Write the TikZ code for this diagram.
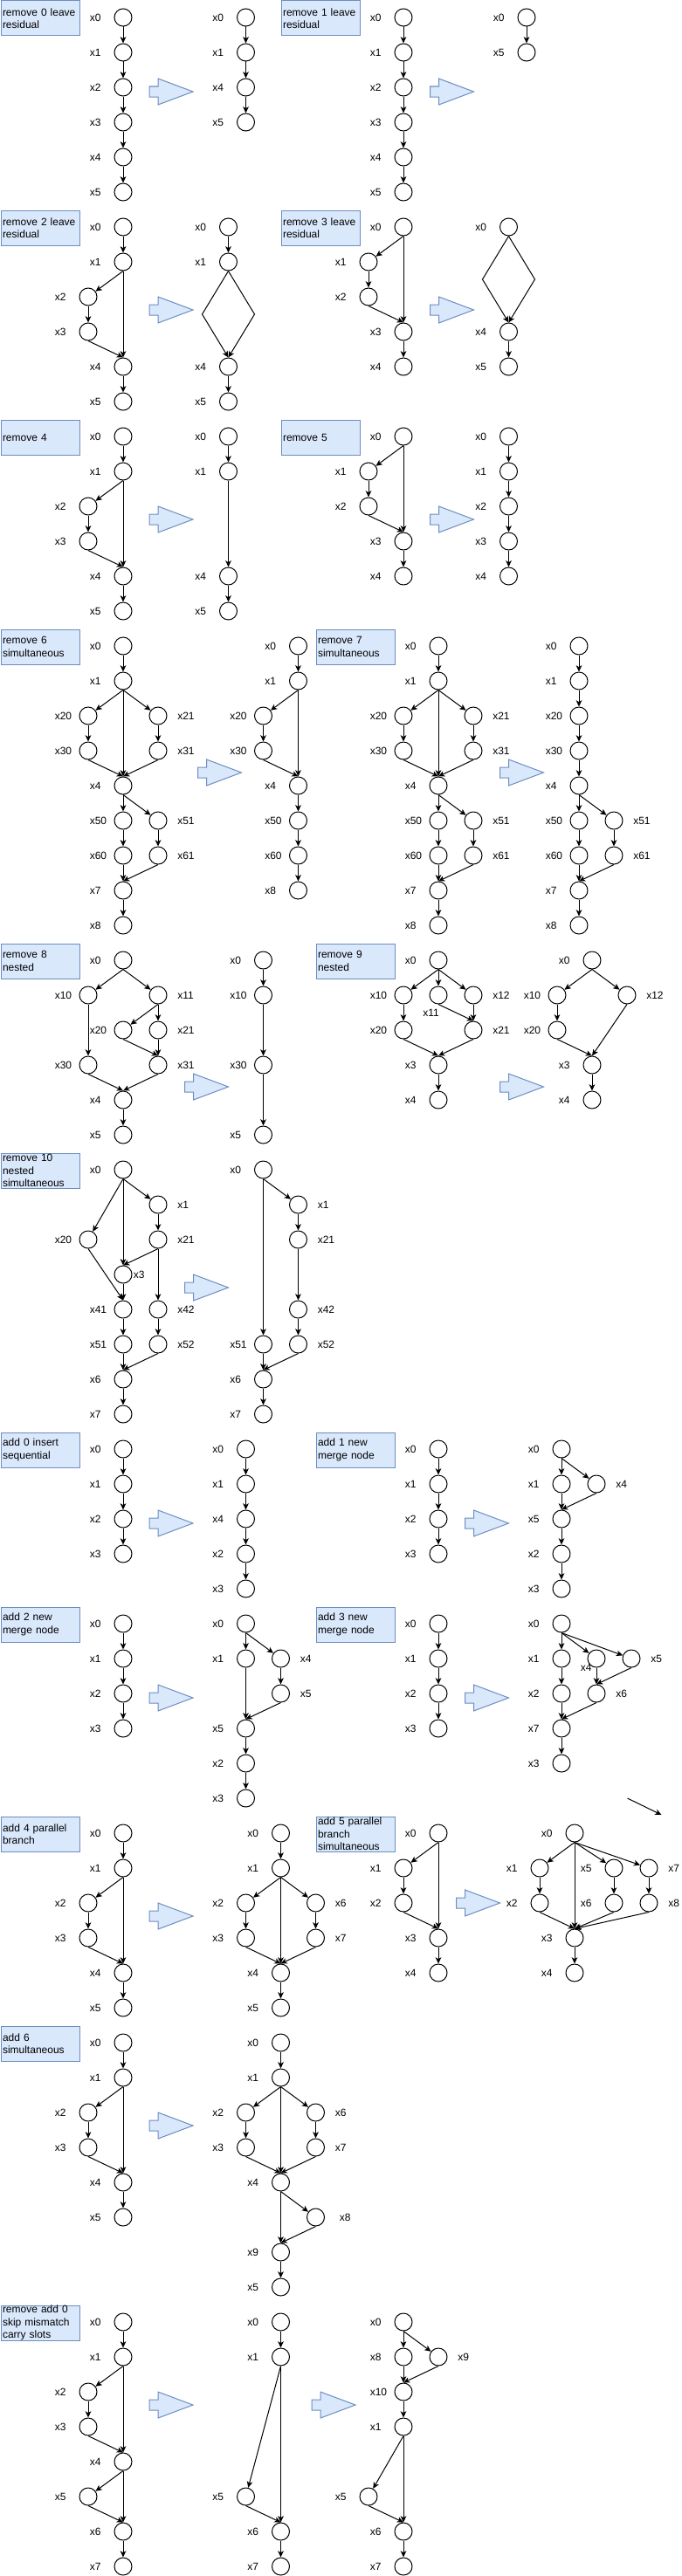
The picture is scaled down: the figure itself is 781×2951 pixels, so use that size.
\documentclass[tikz,border=0pt]{standalone}
\usepackage{fontspec}
\setmainfont{Liberation Sans}
\usepackage{tikz}
\usetikzlibrary{arrows.meta}
\definecolor{boxfill}{HTML}{DAE8FC}
\definecolor{boxline}{HTML}{6C8EBF}

\begin{document}
\begin{tikzpicture}[x=0.75pt, y=-0.75pt,
    vx/.style={circle, draw, line width=0.75pt, minimum size=15pt, inner sep=0pt},
    lbl/.style={anchor=west, inner sep=0pt, font=\fontsize{9}{10.8}\selectfont},
    edge/.style={line width=0.75pt, -{Stealth[length=5.5pt,width=5pt,inset=1.5pt]}},
    stepnote/.style={draw=boxline, fill=boxfill, line width=0.75pt, anchor=north west,
      minimum width=67.5pt, minimum height=30pt, text width=64.5pt, inner xsep=1.5pt,
      inner ysep=0pt, align=left, font=\fontsize{9}{10.8}\selectfont},
    bigarrow/.style={draw=boxline, fill=boxfill, line width=0.75pt}]
  \useasboundingbox (0,0) rectangle (781,2951);

  % Block arrows between before and after
  \foreach \ax/\ay in {171/90, 492.5/90, 171/340, 492.5/340, 171/580, 492.5/580,
      226.5/870, 572.5/870, 211.5/1230, 572.5/1230, 211.5/1460, 171/1730, 532.5/1730,
      171/1930, 532.5/1930, 171/2180, 522.5/2165, 171/2420, 171/2740, 357/2740}
    \draw[bigarrow] (\ax,\ay+9) -- ++(10,0) -- ++(0,-9) -- ++(40,15) -- ++(-40,15)
      -- ++(0,-9) -- ++(-10,0) -- cycle;

  % remove 0 leave residual
  \node[stepnote] (r0n) at (0.5,0.5) {remove 0 leave\\residual};
  \foreach \nm/\cy in {x0/20, x1/60, x2/100, x3/140, x4/180, x5/220}
    {\node[vx] (r0a-\nm) at (141,\cy) {}; \node[lbl] (r0a-\nm-t) at (102.5,\cy) {\nm};}
  \foreach \p/\q in {x0/x1, x1/x2, x2/x3, x3/x4, x4/x5}
    \draw[edge] (r0a-\p.south) -- (r0a-\q);
  \foreach \nm/\cy in {x0/20, x1/60, x4/100, x5/140}
    {\node[vx] (r0b-\nm) at (281.5,\cy) {}; \node[lbl] (r0b-\nm-t) at (243,\cy) {\nm};}
  \foreach \p/\q in {x0/x1, x1/x4, x4/x5}
    \draw[edge] (r0b-\p.south) -- (r0b-\q);

  % remove 1 leave residual
  \node[stepnote] (r1n) at (321.5,0.5) {remove 1 leave\\residual};
  \foreach \nm/\cy in {x0/20, x1/60, x2/100, x3/140, x4/180, x5/220}
    {\node[vx] (r1a-\nm) at (462,\cy) {}; \node[lbl] (r1a-\nm-t) at (423.5,\cy) {\nm};}
  \foreach \p/\q in {x0/x1, x1/x2, x2/x3, x3/x4, x4/x5}
    \draw[edge] (r1a-\p.south) -- (r1a-\q);
  \foreach \nm/\cy in {x0/20, x5/60}
    {\node[vx] (r1b-\nm) at (603,\cy) {}; \node[lbl] (r1b-\nm-t) at (564.5,\cy) {\nm};}
  \draw[edge] (r1b-x0.south) -- (r1b-x5);

  % remove 2 leave residual
  \node[stepnote] (r2n) at (0.5,240.5) {remove 2 leave\\residual};
  \foreach \nm/\cx/\cy in {x0/141/260, x1/141/300, x2/101/340, x3/101/380, x4/141/420, x5/141/460}
    {\node[vx] (r2a-\nm) at (\cx,\cy) {}; \node[lbl] (r2a-\nm-t) at (\cx-38.5,\cy) {\nm};}
  \foreach \p/\q in {x0/x1, x1/x2, x2/x3, x1/x4, x4/x5}
    \draw[edge] (r2a-\p.south) -- (r2a-\q);
  \draw[edge] (r2a-x3.south) -- (r2a-x4.north);
  \foreach \nm/\cy in {x0/260, x1/300, x4/420, x5/460}
    {\node[vx] (r2b-\nm) at (261.5,\cy) {}; \node[lbl] (r2b-\nm-t) at (223,\cy) {\nm};}
  \coordinate (r2b-l) at (231.5,360);
  \coordinate (r2b-r) at (291.5,360);
  \draw[edge] (r2b-x0.south) -- (r2b-x1);
  \draw[edge] (r2b-x1.south) -- (r2b-l) -- (r2b-x4.north);
  \draw[edge] (r2b-x1.south) -- (r2b-r) -- (r2b-x4.north);
  \draw[edge] (r2b-x4.south) -- (r2b-x5);

  % remove 3 leave residual
  \node[stepnote] (r3n) at (321.5,240.5) {remove 3 leave\\residual};
  \foreach \nm/\cx/\cy in {x0/462/260, x1/422/300, x2/422/340, x3/462/380, x4/462/420}
    {\node[vx] (r3a-\nm) at (\cx,\cy) {}; \node[lbl] (r3a-\nm-t) at (\cx-38.5,\cy) {\nm};}
  \foreach \p/\q in {x0/x1, x1/x2, x0/x3, x3/x4}
    \draw[edge] (r3a-\p.south) -- (r3a-\q);
  \draw[edge] (r3a-x2.south) -- (r3a-x3.north);
  \foreach \nm/\cy in {x0/260, x4/380, x5/420}
    {\node[vx] (r3b-\nm) at (582.5,\cy) {}; \node[lbl] (r3b-\nm-t) at (544,\cy) {\nm};}
  \coordinate (r3b-l) at (552.5,320);
  \coordinate (r3b-r) at (612.5,320);
  \draw[edge] (r3b-x0.south) -- (r3b-l) -- (r3b-x4.north);
  \draw[edge] (r3b-x0.south) -- (r3b-r) -- (r3b-x4.north);
  \draw[edge] (r3b-x4.south) -- (r3b-x5);

  % remove 4
  \node[stepnote] (r4n) at (0.5,480.5) {remove 4};
  \foreach \nm/\cx/\cy in {x0/141/500, x1/141/540, x2/101/580, x3/101/620, x4/141/660, x5/141/700}
    {\node[vx] (r4a-\nm) at (\cx,\cy) {}; \node[lbl] (r4a-\nm-t) at (\cx-38.5,\cy) {\nm};}
  \foreach \p/\q in {x0/x1, x1/x2, x2/x3, x1/x4, x4/x5}
    \draw[edge] (r4a-\p.south) -- (r4a-\q);
  \draw[edge] (r4a-x3.south) -- (r4a-x4.north);
  \foreach \nm/\cy in {x0/500, x1/540, x4/660, x5/700}
    {\node[vx] (r4b-\nm) at (261.5,\cy) {}; \node[lbl] (r4b-\nm-t) at (223,\cy) {\nm};}
  \foreach \p/\q in {x0/x1, x1/x4, x4/x5}
    \draw[edge] (r4b-\p.south) -- (r4b-\q);

  % remove 5
  \node[stepnote] (r5n) at (321.5,480.5) {remove 5};
  \foreach \nm/\cx/\cy in {x0/462/500, x1/422/540, x2/422/580, x3/462/620, x4/462/660}
    {\node[vx] (r5a-\nm) at (\cx,\cy) {}; \node[lbl] (r5a-\nm-t) at (\cx-38.5,\cy) {\nm};}
  \foreach \p/\q in {x0/x1, x1/x2, x0/x3, x3/x4}
    \draw[edge] (r5a-\p.south) -- (r5a-\q);
  \draw[edge] (r5a-x2.south) -- (r5a-x3.north);
  \foreach \nm/\cy in {x0/500, x1/540, x2/580, x3/620, x4/660}
    {\node[vx] (r5b-\nm) at (582.5,\cy) {}; \node[lbl] (r5b-\nm-t) at (544,\cy) {\nm};}
  \foreach \p/\q in {x0/x1, x1/x2, x2/x3, x3/x4}
    \draw[edge] (r5b-\p.south) -- (r5b-\q);

  % remove 6 simultaneous
  \node[stepnote] (r6n) at (0.5,720.5) {remove 6\\simultaneous};
  \foreach \nm/\cx/\cy/\off in {x0/141/740/-38.5, x1/141/780/-38.5, x20/101/820/-38.5,
      x21/181/820/22, x30/101/860/-38.5, x31/181/860/22, x4/141/900/-38.5, x50/141/940/-38.5,
      x51/181/940/22, x60/141/980/-38.5, x61/181/980/22, x7/141/1020/-38.5, x8/141/1060/-38.5}
    {\node[vx] (r6a-\nm) at (\cx,\cy) {}; \node[lbl] (r6a-\nm-t) at (\cx+\off,\cy) {\nm};}
  \foreach \p/\q in {x0/x1, x1/x20, x1/x21, x1/x4, x20/x30, x21/x31, x4/x50, x4/x51,
      x50/x60, x51/x61, x7/x8}
    \draw[edge] (r6a-\p.south) -- (r6a-\q);
  \foreach \p/\q in {x30/x4, x31/x4, x60/x7, x61/x7}
    \draw[edge] (r6a-\p.south) -- (r6a-\q.north);
  \foreach \nm/\cx/\cy in {x0/341.5/740, x1/341.5/780, x20/301.5/820, x30/301.5/860,
      x4/341.5/900, x50/341.5/940, x60/341.5/980, x8/341.5/1020}
    {\node[vx] (r6b-\nm) at (\cx,\cy) {}; \node[lbl] (r6b-\nm-t) at (\cx-38.5,\cy) {\nm};}
  \foreach \p/\q in {x0/x1, x1/x20, x1/x4, x20/x30, x4/x50, x50/x60, x60/x8}
    \draw[edge] (r6b-\p.south) -- (r6b-\q);
  \draw[edge] (r6b-x30.south) -- (r6b-x4.north);

  % remove 7 simultaneous
  \node[stepnote] (r7n) at (361.5,720.5) {remove 7\\simultaneous};
  \foreach \nm/\cx/\cy/\off in {x0/502/740/-38.5, x1/502/780/-38.5, x20/462/820/-38.5,
      x21/542/820/22, x30/462/860/-38.5, x31/542/860/22, x4/502/900/-38.5, x50/502/940/-38.5,
      x51/542/940/22, x60/502/980/-38.5, x61/542/980/22, x7/502/1020/-38.5, x8/502/1060/-38.5}
    {\node[vx] (r7a-\nm) at (\cx,\cy) {}; \node[lbl] (r7a-\nm-t) at (\cx+\off,\cy) {\nm};}
  \foreach \p/\q in {x0/x1, x1/x20, x1/x21, x1/x4, x20/x30, x21/x31, x4/x50, x4/x51,
      x50/x60, x51/x61, x7/x8}
    \draw[edge] (r7a-\p.south) -- (r7a-\q);
  \foreach \p/\q in {x30/x4, x31/x4, x60/x7, x61/x7}
    \draw[edge] (r7a-\p.south) -- (r7a-\q.north);
  \foreach \nm/\cx/\cy/\off in {x0/663/740/-38.5, x1/663/780/-38.5, x20/663/820/-38.5,
      x30/663/860/-38.5, x4/663/900/-38.5, x50/663/940/-38.5, x51/703/940/22,
      x60/663/980/-38.5, x61/703/980/22, x7/663/1020/-38.5, x8/663/1060/-38.5}
    {\node[vx] (r7b-\nm) at (\cx,\cy) {}; \node[lbl] (r7b-\nm-t) at (\cx+\off,\cy) {\nm};}
  \foreach \p/\q in {x0/x1, x1/x20, x20/x30, x30/x4, x4/x50, x4/x51, x50/x60, x51/x61, x7/x8}
    \draw[edge] (r7b-\p.south) -- (r7b-\q);
  \foreach \p/\q in {x60/x7, x61/x7}
    \draw[edge] (r7b-\p.south) -- (r7b-\q.north);

  % remove 8 nested
  \node[stepnote] (r8n) at (0.5,1080.5) {remove 8\\nested};
  \foreach \nm/\cx/\cy/\off in {x0/141/1100/-38.5, x10/101/1140/-38.5, x11/181/1140/22,
      x20/141/1180/-38.5, x21/181/1180/22, x30/101/1220/-38.5, x31/181/1220/22,
      x4/141/1260/-38.5, x5/141/1300/-38.5}
    {\node[vx] (r8a-\nm) at (\cx,\cy) {}; \node[lbl] (r8a-\nm-t) at (\cx+\off,\cy) {\nm};}
  \foreach \p/\q in {x0/x10, x0/x11, x10/x30, x11/x20, x11/x21, x4/x5}
    \draw[edge] (r8a-\p.south) -- (r8a-\q);
  \foreach \p/\q in {x20/x31, x21/x31, x30/x4, x31/x4}
    \draw[edge] (r8a-\p.south) -- (r8a-\q.north);
  \foreach \nm/\cy in {x0/1100, x10/1140, x30/1220, x5/1300}
    {\node[vx] (r8b-\nm) at (301.5,\cy) {}; \node[lbl] (r8b-\nm-t) at (263,\cy) {\nm};}
  \foreach \p/\q in {x0/x10, x10/x30, x30/x5}
    \draw[edge] (r8b-\p.south) -- (r8b-\q);

  % remove 9 nested
  \node[stepnote] (r9n) at (361.5,1080.5) {remove 9\\nested};
  \foreach \nm/\cx/\cy/\off in {x0/502/1100/-38.5, x10/462/1140/-38.5, x12/542/1140/22,
      x20/462/1180/-38.5, x21/542/1180/22, x3/502/1220/-38.5, x4/502/1260/-38.5}
    {\node[vx] (r9a-\nm) at (\cx,\cy) {}; \node[lbl] (r9a-\nm-t) at (\cx+\off,\cy) {\nm};}
  \node[vx] (r9a-x11) at (502,1140) {};
  \node[lbl] (r9a-x11-t) at (484,1160) {x11};
  \foreach \p/\q in {x0/x10, x0/x11, x0/x12, x10/x20, x3/x4}
    \draw[edge] (r9a-\p.south) -- (r9a-\q);
  \foreach \p/\q in {x11/x21, x12/x21, x20/x3, x21/x3}
    \draw[edge] (r9a-\p.south) -- (r9a-\q.north);
  \foreach \nm/\cx/\cy/\off in {x0/678/1100/-38.5, x10/638/1140/-38.5, x12/718/1140/22,
      x20/638/1180/-38.5, x3/678/1220/-38.5, x4/678/1260/-38.5}
    {\node[vx] (r9b-\nm) at (\cx,\cy) {}; \node[lbl] (r9b-\nm-t) at (\cx+\off,\cy) {\nm};}
  \foreach \p/\q in {x0/x10, x0/x12, x10/x20, x3/x4}
    \draw[edge] (r9b-\p.south) -- (r9b-\q);
  \foreach \p/\q in {x20/x3, x12/x3}
    \draw[edge] (r9b-\p.south) -- (r9b-\q.north);

  % remove 10 nested simultaneous
  \node[stepnote] (r10n) at (0.5,1320.5) {remove 10\\nested\\simultaneous};
  \foreach \nm/\cx/\cy/\off in {x0/141/1340/-38.5, x1/181/1380/22, x20/101/1420/-38.5,
      x21/181/1420/22, x3/141/1460/11.5, x41/141/1500/-38.5, x42/181/1500/22,
      x51/141/1540/-38.5, x52/181/1540/22, x6/141/1580/-38.5, x7/141/1620/-38.5}
    {\node[vx] (r10a-\nm) at (\cx,\cy) {}; \node[lbl] (r10a-\nm-t) at (\cx+\off,\cy) {\nm};}
  \foreach \p/\q in {x0/x1, x0/x20, x0/x3, x1/x21, x21/x42, x41/x51, x42/x52, x6/x7}
    \draw[edge] (r10a-\p.south) -- (r10a-\q);
  \foreach \p/\q in {x21/x3, x20/x41, x3/x41, x51/x6, x52/x6}
    \draw[edge] (r10a-\p.south) -- (r10a-\q.north);
  \foreach \nm/\cx/\cy/\off in {x0/301.5/1340/-38.5, x1/341.5/1380/22, x21/341.5/1420/22,
      x42/341.5/1500/22, x51/301.5/1540/-38.5, x52/341.5/1540/22, x6/301.5/1580/-38.5,
      x7/301.5/1620/-38.5}
    {\node[vx] (r10b-\nm) at (\cx,\cy) {}; \node[lbl] (r10b-\nm-t) at (\cx+\off,\cy) {\nm};}
  \foreach \p/\q in {x0/x1, x0/x51, x1/x21, x21/x42, x42/x52, x6/x7}
    \draw[edge] (r10b-\p.south) -- (r10b-\q);
  \foreach \p/\q in {x51/x6, x52/x6}
    \draw[edge] (r10b-\p.south) -- (r10b-\q.north);

  % add 0 insert sequential
  \node[stepnote] (d0n) at (0.5,1640.5) {add 0 insert\\sequential};
  \foreach \nm/\cy in {x0/1660, x1/1700, x2/1740, x3/1780}
    {\node[vx] (d0a-\nm) at (141,\cy) {}; \node[lbl] (d0a-\nm-t) at (102.5,\cy) {\nm};}
  \foreach \p/\q in {x0/x1, x1/x2, x2/x3}
    \draw[edge] (d0a-\p.south) -- (d0a-\q);
  \foreach \nm/\cy in {x0/1660, x1/1700, x4/1740, x2/1780, x3/1820}
    {\node[vx] (d0b-\nm) at (281.5,\cy) {}; \node[lbl] (d0b-\nm-t) at (243,\cy) {\nm};}
  \foreach \p/\q in {x0/x1, x1/x4, x4/x2, x2/x3}
    \draw[edge] (d0b-\p.south) -- (d0b-\q);

  % add 1 new merge node
  \node[stepnote] (d1n) at (361.5,1640.5) {add 1 new\\merge node};
  \foreach \nm/\cy in {x0/1660, x1/1700, x2/1740, x3/1780}
    {\node[vx] (d1a-\nm) at (502,\cy) {}; \node[lbl] (d1a-\nm-t) at (463.5,\cy) {\nm};}
  \foreach \p/\q in {x0/x1, x1/x2, x2/x3}
    \draw[edge] (d1a-\p.south) -- (d1a-\q);
  \foreach \nm/\cx/\cy/\off in {x0/643/1660/-38.5, x1/643/1700/-38.5, x4/683/1700/22,
      x5/643/1740/-38.5, x2/643/1780/-38.5, x3/643/1820/-38.5}
    {\node[vx] (d1b-\nm) at (\cx,\cy) {}; \node[lbl] (d1b-\nm-t) at (\cx+\off,\cy) {\nm};}
  \foreach \p/\q in {x0/x1, x0/x4, x5/x2, x2/x3}
    \draw[edge] (d1b-\p.south) -- (d1b-\q);
  \foreach \p/\q in {x1/x5, x4/x5}
    \draw[edge] (d1b-\p.south) -- (d1b-\q.north);

  % add 2 new merge node
  \node[stepnote] (d2n) at (0.5,1840.5) {add 2 new\\merge node};
  \foreach \nm/\cy in {x0/1860, x1/1900, x2/1940, x3/1980}
    {\node[vx] (d2a-\nm) at (141,\cy) {}; \node[lbl] (d2a-\nm-t) at (102.5,\cy) {\nm};}
  \foreach \p/\q in {x0/x1, x1/x2, x2/x3}
    \draw[edge] (d2a-\p.south) -- (d2a-\q);
  \foreach \nm/\cx/\cy/\off in {x0/281.5/1860/-38.5, x1/281.5/1900/-38.5, x4/321.5/1900/22,
      x5/281.5/1980/-38.5, x2/281.5/2020/-38.5, x3/281.5/2060/-38.5}
    {\node[vx] (d2b-\nm) at (\cx,\cy) {}; \node[lbl] (d2b-\nm-t) at (\cx+\off,\cy) {\nm};}
  \node[vx] (d2b-x5b) at (321.5,1940) {};
  \node[lbl] (d2b-x5b-t) at (343.5,1940) {x5};
  \foreach \p/\q in {x0/x1, x0/x4, x4/x5b, x5/x2, x2/x3}
    \draw[edge] (d2b-\p.south) -- (d2b-\q);
  \foreach \p/\q in {x1/x5, x5b/x5}
    \draw[edge] (d2b-\p.south) -- (d2b-\q.north);

  % add 3 new merge node
  \node[stepnote] (d3n) at (361.5,1840.5) {add 3 new\\merge node};
  \foreach \nm/\cy in {x0/1860, x1/1900, x2/1940, x3/1980}
    {\node[vx] (d3a-\nm) at (502,\cy) {}; \node[lbl] (d3a-\nm-t) at (463.5,\cy) {\nm};}
  \foreach \p/\q in {x0/x1, x1/x2, x2/x3}
    \draw[edge] (d3a-\p.south) -- (d3a-\q);
  \foreach \nm/\cx/\cy/\off in {x0/643/1860/-38.5, x1/643/1900/-38.5, x5/723/1900/22,
      x2/643/1940/-38.5, x6/683/1940/22, x7/643/1980/-38.5, x3/643/2020/-38.5}
    {\node[vx] (d3b-\nm) at (\cx,\cy) {}; \node[lbl] (d3b-\nm-t) at (\cx+\off,\cy) {\nm};}
  \node[vx] (d3b-x4) at (683,1900) {};
  \node[lbl] (d3b-x4-t) at (664.5,1910) {x4};
  \foreach \p/\q in {x0/x1, x0/x4, x0/x5, x1/x2, x7/x3}
    \draw[edge] (d3b-\p.south) -- (d3b-\q);
  \foreach \p/\q in {x4/x6, x5/x6, x2/x7, x6/x7}
    \draw[edge] (d3b-\p.south) -- (d3b-\q.north);

  % loose arrow
  \coordinate (loose-s) at (718.5,2060);
  \coordinate (loose-e) at (757.5,2079);
  \draw[edge] (loose-s) -- (loose-e);

  % add 4 parallel branch
  \node[stepnote] (d4n) at (0.5,2080.5) {add 4 parallel\\branch};
  \foreach \nm/\cx/\cy in {x0/141/2100, x1/141/2140, x2/101/2180, x3/101/2220, x4/141/2260, x5/141/2300}
    {\node[vx] (d4a-\nm) at (\cx,\cy) {}; \node[lbl] (d4a-\nm-t) at (\cx-38.5,\cy) {\nm};}
  \foreach \p/\q in {x0/x1, x1/x2, x2/x3, x1/x4, x4/x5}
    \draw[edge] (d4a-\p.south) -- (d4a-\q);
  \draw[edge] (d4a-x3.south) -- (d4a-x4.north);
  \foreach \nm/\cx/\cy/\off in {x0/321.5/2100/-38.5, x1/321.5/2140/-38.5, x2/281.5/2180/-38.5,
      x6/361.5/2180/22, x3/281.5/2220/-38.5, x7/361.5/2220/22, x4/321.5/2260/-38.5,
      x5/321.5/2300/-38.5}
    {\node[vx] (d4b-\nm) at (\cx,\cy) {}; \node[lbl] (d4b-\nm-t) at (\cx+\off,\cy) {\nm};}
  \foreach \p/\q in {x0/x1, x1/x2, x1/x6, x1/x4, x2/x3, x6/x7, x4/x5}
    \draw[edge] (d4b-\p.south) -- (d4b-\q);
  \foreach \p/\q in {x3/x4, x7/x4}
    \draw[edge] (d4b-\p.south) -- (d4b-\q.north);

  % add 5 parallel branch simultaneous
  \node[stepnote] (d5n) at (361.5,2080.5) {add 5 parallel\\branch\\simultaneous};
  \foreach \nm/\cx/\cy in {x0/502/2100, x1/462/2140, x2/462/2180, x3/502/2220, x4/502/2260}
    {\node[vx] (d5a-\nm) at (\cx,\cy) {}; \node[lbl] (d5a-\nm-t) at (\cx-38.5,\cy) {\nm};}
  \foreach \p/\q in {x0/x1, x1/x2, x0/x3, x3/x4}
    \draw[edge] (d5a-\p.south) -- (d5a-\q);
  \draw[edge] (d5a-x2.south) -- (d5a-x3.north);
  \foreach \nm/\cx/\cy/\off in {x0/658/2100/-38.5, x1/618/2140/-38.5, x5/703/2140/-38.5,
      x7/743/2140/22, x2/618/2180/-38.5, x6/703/2180/-38.5, x8/743/2180/22,
      x3/658/2220/-38.5, x4/658/2260/-38.5}
    {\node[vx] (d5b-\nm) at (\cx,\cy) {}; \node[lbl] (d5b-\nm-t) at (\cx+\off,\cy) {\nm};}
  \foreach \p/\q in {x0/x1, x0/x5, x0/x7, x0/x3, x1/x2, x5/x6, x7/x8, x3/x4}
    \draw[edge] (d5b-\p.south) -- (d5b-\q);
  \foreach \p/\q in {x2/x3, x6/x3, x8/x3}
    \draw[edge] (d5b-\p.south) -- (d5b-\q.north);

  % add 6 simultaneous
  \node[stepnote] (d6n) at (0.5,2320.5) {add 6\\simultaneous};
  \foreach \nm/\cx/\cy in {x0/141/2340, x1/141/2380, x2/101/2420, x3/101/2460, x4/141/2500, x5/141/2540}
    {\node[vx] (d6a-\nm) at (\cx,\cy) {}; \node[lbl] (d6a-\nm-t) at (\cx-38.5,\cy) {\nm};}
  \foreach \p/\q in {x0/x1, x1/x2, x2/x3, x1/x4, x4/x5}
    \draw[edge] (d6a-\p.south) -- (d6a-\q);
  \draw[edge] (d6a-x3.south) -- (d6a-x4.north);
  \foreach \nm/\cx/\cy/\off in {x0/321.5/2340/-38.5, x1/321.5/2380/-38.5, x2/281.5/2420/-38.5,
      x6/361.5/2420/22, x3/281.5/2460/-38.5, x7/361.5/2460/22, x4/321.5/2500/-38.5,
      x8/361.5/2540/27, x9/321.5/2580/-38.5, x5/321.5/2620/-38.5}
    {\node[vx] (d6b-\nm) at (\cx,\cy) {}; \node[lbl] (d6b-\nm-t) at (\cx+\off,\cy) {\nm};}
  \foreach \p/\q in {x0/x1, x1/x2, x1/x6, x1/x4, x2/x3, x6/x7, x4/x8, x9/x5}
    \draw[edge] (d6b-\p.south) -- (d6b-\q);
  \foreach \p/\q in {x3/x4, x7/x4, x4/x9, x8/x9}
    \draw[edge] (d6b-\p.south) -- (d6b-\q.north);

  % remove add 0 skip mismatch carry slots
  \node[stepnote] (ra0n) at (0.5,2640.5) {remove add 0\\skip mismatch\\carry slots};
  \foreach \nm/\cx/\cy in {x0/141/2660, x1/141/2700, x2/101/2740, x3/101/2780, x4/141/2820,
      x5/101/2860, x6/141/2900, x7/141/2940}
    {\node[vx] (ra0a-\nm) at (\cx,\cy) {}; \node[lbl] (ra0a-\nm-t) at (\cx-38.5,\cy) {\nm};}
  \foreach \p/\q in {x0/x1, x1/x2, x1/x4, x2/x3, x4/x5, x4/x6, x6/x7}
    \draw[edge] (ra0a-\p.south) -- (ra0a-\q);
  \foreach \p/\q in {x3/x4, x5/x6}
    \draw[edge] (ra0a-\p.south) -- (ra0a-\q.north);
  \foreach \nm/\cx/\cy in {x0/321.5/2660, x1/321.5/2700, x5/281.5/2860, x6/321.5/2900, x7/321.5/2940}
    {\node[vx] (ra0b-\nm) at (\cx,\cy) {}; \node[lbl] (ra0b-\nm-t) at (\cx-38.5,\cy) {\nm};}
  \foreach \p/\q in {x0/x1, x1/x5, x1/x6, x6/x7}
    \draw[edge] (ra0b-\p.south) -- (ra0b-\q);
  \draw[edge] (ra0b-x5.south) -- (ra0b-x6.north);
  \foreach \nm/\cx/\cy/\off in {x0/462/2660/-38.5, x8/462/2700/-38.5, x9/502/2700/22,
      x10/462/2740/-38.5, x1/462/2780/-38.5, x5/422/2860/-38.5, x6/462/2900/-38.5,
      x7/462/2940/-38.5}
    {\node[vx] (ra0c-\nm) at (\cx,\cy) {}; \node[lbl] (ra0c-\nm-t) at (\cx+\off,\cy) {\nm};}
  \foreach \p/\q in {x0/x8, x0/x9, x10/x1, x1/x5, x1/x6, x6/x7}
    \draw[edge] (ra0c-\p.south) -- (ra0c-\q);
  \foreach \p/\q in {x8/x10, x9/x10, x5/x6}
    \draw[edge] (ra0c-\p.south) -- (ra0c-\q.north);
\end{tikzpicture}
\end{document}
